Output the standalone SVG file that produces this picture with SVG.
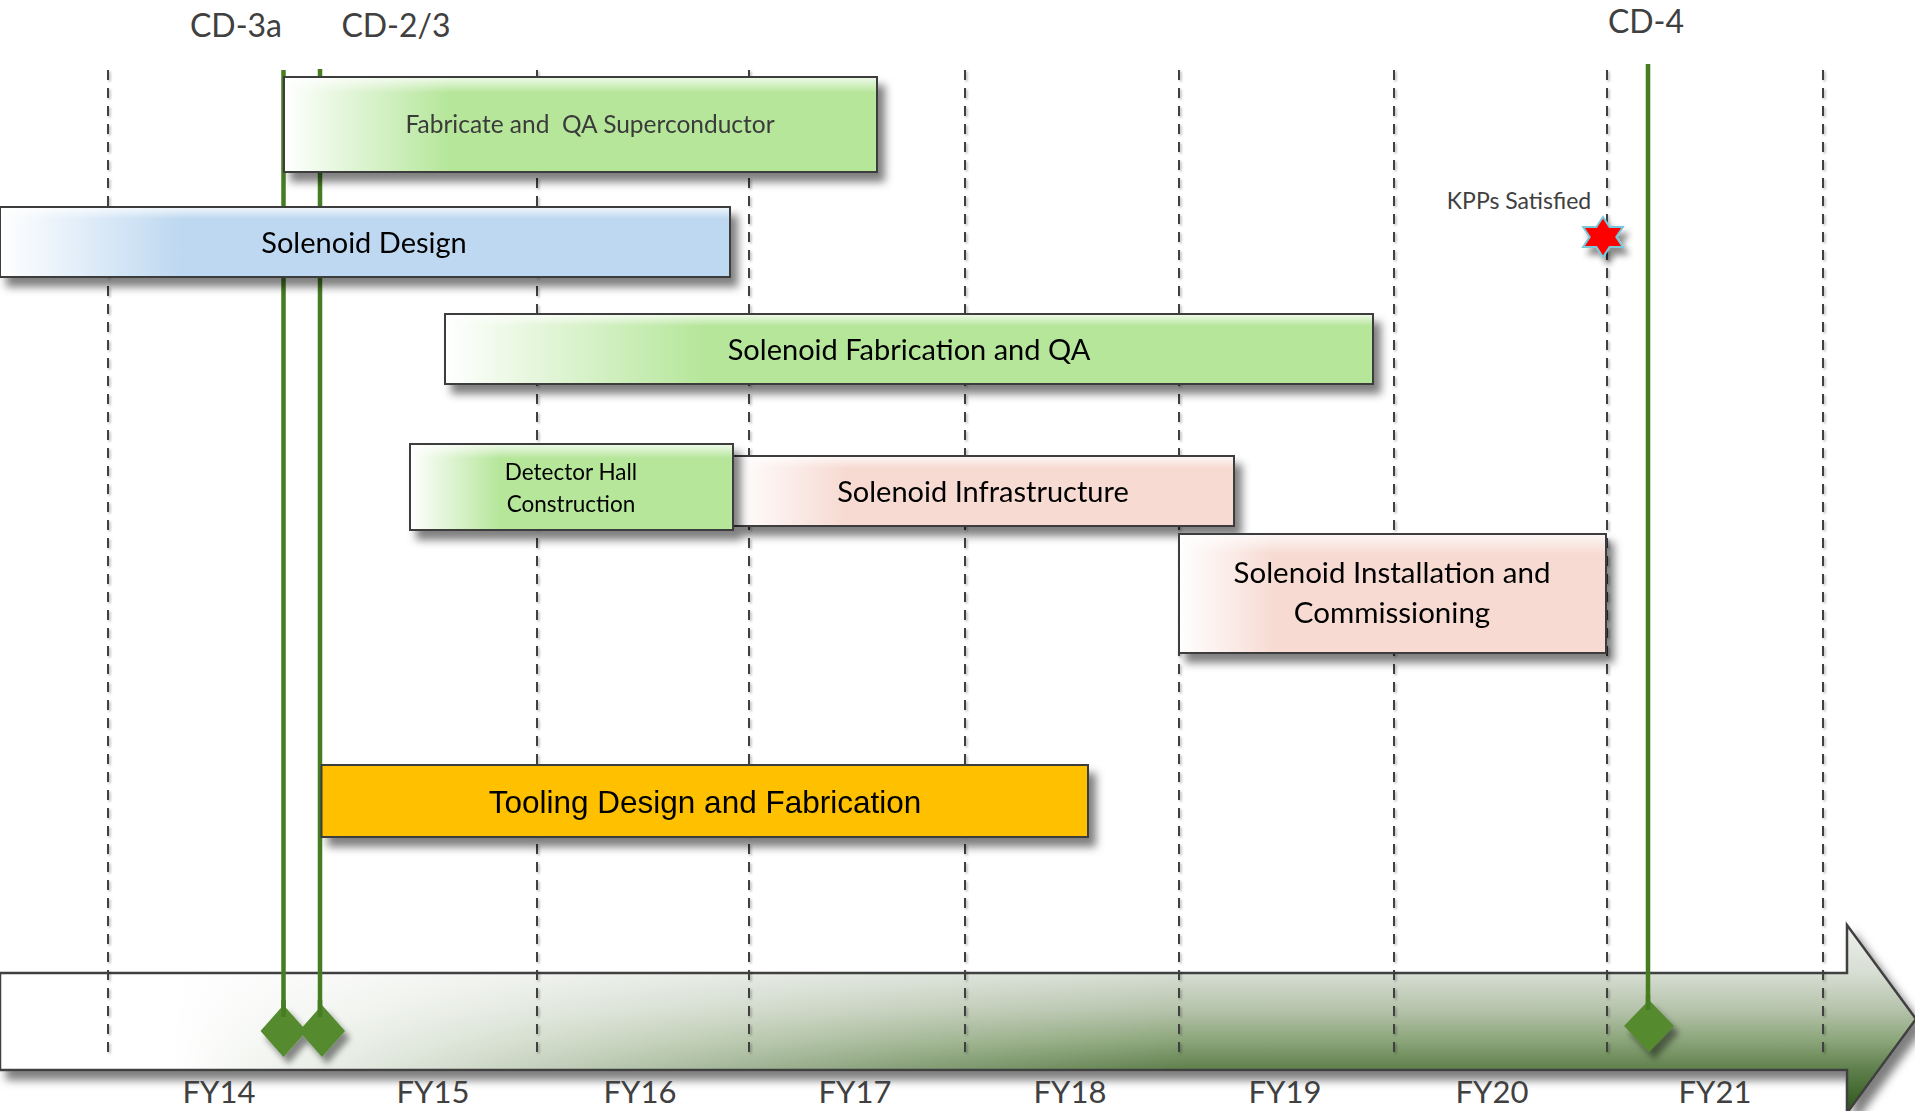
<svg xmlns="http://www.w3.org/2000/svg" width="1915" height="1111" viewBox="0 0 1915 1111">
<style>
.lbl{font-family:Lato,"Open Sans","Liberation Sans",sans-serif;fill:#000;text-anchor:middle}
.cd{font-family:Lato,"Open Sans","Liberation Sans",sans-serif;fill:#404040;text-anchor:middle;font-size:32px}
.fy{font-family:Lato,"Open Sans","Liberation Sans",sans-serif;fill:#404040;text-anchor:middle;font-size:31px}
.box{stroke:#3c3c3c;stroke-width:2}
.grid{stroke:#3f3f3f;stroke-width:2;stroke-dasharray:10 8;fill:none}
.ms{stroke:#467c22;stroke-width:4.5;fill:none}
.dia{fill:#548a2f}
</style>
<defs>
<filter id="sh" x="-10%" y="-20%" width="130%" height="160%">
<feDropShadow dx="7" dy="9" stdDeviation="4" flood-color="#000" flood-opacity="0.5"/>
</filter>
<filter id="shs" x="-50%" y="-50%" width="250%" height="250%">
<feDropShadow dx="5" dy="7" stdDeviation="3" flood-color="#000" flood-opacity="0.45"/>
</filter>
<filter id="gsh" x="-200%" y="-2%" width="500%" height="104%">
<feDropShadow dx="1.5" dy="1.5" stdDeviation="1.2" flood-color="#000" flood-opacity="0.3"/>
</filter>
<linearGradient id="gGreen" x1="0" y1="0" x2="1" y2="0">
<stop offset="0" stop-color="#fff"/><stop offset="0.28" stop-color="#b5e69a"/><stop offset="1" stop-color="#b5e69a"/>
</linearGradient>
<linearGradient id="gBlue" x1="0" y1="0" x2="1" y2="0">
<stop offset="0" stop-color="#fff"/><stop offset="0.25" stop-color="#bdd8f0"/><stop offset="1" stop-color="#bdd8f0"/>
</linearGradient>
<linearGradient id="gPink" x1="0" y1="0" x2="1" y2="0">
<stop offset="0" stop-color="#fff"/><stop offset="0.22" stop-color="#f7dbd3"/><stop offset="1" stop-color="#f7dbd3"/>
</linearGradient>
<linearGradient id="gTop" x1="0" y1="0" x2="0" y2="1">
<stop offset="0" stop-color="#fff" stop-opacity="0.75"/><stop offset="0.16" stop-color="#fff" stop-opacity="0"/>
</linearGradient>
<linearGradient id="gArrV" gradientUnits="userSpaceOnUse" x1="0" y1="925" x2="0" y2="1113">
<stop offset="0" stop-color="#eef1ec"/>
<stop offset="0.26" stop-color="#d6ddd2"/>
<stop offset="0.45" stop-color="#b5c3ab"/>
<stop offset="0.62" stop-color="#8aa478"/>
<stop offset="0.77" stop-color="#5e7f4b"/>
<stop offset="1" stop-color="#2c5519"/>
</linearGradient>
<linearGradient id="gArrH" gradientUnits="userSpaceOnUse" x1="0" y1="0" x2="1915" y2="0">
<stop offset="0" stop-color="#fff" stop-opacity="1"/>
<stop offset="0.09" stop-color="#fff" stop-opacity="1"/>
<stop offset="0.19" stop-color="#fff" stop-opacity="0.82"/>
<stop offset="0.32" stop-color="#fff" stop-opacity="0.55"/>
<stop offset="0.47" stop-color="#fff" stop-opacity="0.25"/>
<stop offset="0.62" stop-color="#fff" stop-opacity="0"/>
</linearGradient>
</defs>
<rect width="1915" height="1111" fill="#fff"/>

<g id="timeline" filter="url(#sh)">
<path d="M0,973 H1847 V925 L1916,1019 L1847,1113 V1070 H0 Z" fill="url(#gArrV)"/>
<path d="M0,973 H1847 V925 L1916,1019 L1847,1113 V1070 H0 Z" fill="url(#gArrH)" stroke="#404040" stroke-width="2.5"/>
</g>

<g id="gridlines" filter="url(#gsh)">
<line class="grid" x1="108" y1="70" x2="108" y2="1052"/>
<line class="grid" x1="537" y1="70" x2="537" y2="1052"/>
<line class="grid" x1="749" y1="70" x2="749" y2="1052"/>
<line class="grid" x1="965" y1="70" x2="965" y2="1052"/>
<line class="grid" x1="1179" y1="70" x2="1179" y2="1052"/>
<line class="grid" x1="1394" y1="70" x2="1394" y2="1052"/>
<line class="grid" x1="1607" y1="70" x2="1607" y2="1052"/>
<line class="grid" x1="1823" y1="70" x2="1823" y2="1052"/>
</g>

<g id="connectors">
<line class="ms" x1="283.5" y1="70" x2="283.5" y2="1017"/>
<line class="ms" x1="320" y1="69" x2="320" y2="1017"/>
<line class="ms" x1="1648" y1="64" x2="1648" y2="1010"/>
</g>

<g id="fabricate-superconductor" filter="url(#sh)">
<rect class="box" x="284" y="77" width="593" height="95" fill="url(#gGreen)"/>
<rect x="285" y="78" width="591" height="93" fill="url(#gTop)"/>
<text class="lbl" x="590" y="133" font-size="24.5" style="fill:#3a3a3a" xml:space="preserve">Fabricate and  QA Superconductor</text>
</g>

<g id="solenoid-design" filter="url(#sh)">
<rect class="box" x="0" y="207" width="730" height="70" fill="url(#gBlue)"/>
<rect x="1" y="208" width="728" height="68" fill="url(#gTop)"/>
<text class="lbl" x="364" y="253" font-size="29">Solenoid Design</text>
</g>

<g id="solenoid-fabrication" filter="url(#sh)">
<rect class="box" x="445" y="314" width="928" height="70" fill="url(#gGreen)"/>
<rect x="446" y="315" width="926" height="68" fill="url(#gTop)"/>
<text class="lbl" x="909" y="360" font-size="29">Solenoid Fabrication and QA</text>
</g>

<g id="solenoid-infrastructure" filter="url(#sh)">
<rect class="box" x="733" y="456" width="501" height="70" fill="url(#gPink)"/>
<rect x="734" y="457" width="499" height="68" fill="url(#gTop)"/>
<text class="lbl" x="983" y="502" font-size="29">Solenoid Infrastructure</text>
</g>

<g id="detector-hall" filter="url(#sh)">
<rect class="box" x="410" y="444" width="323" height="86" fill="url(#gGreen)"/>
<rect x="411" y="445" width="321" height="84" fill="url(#gTop)"/>
<text class="lbl" x="571" y="480" font-size="22.5">Detector Hall</text>
<text class="lbl" x="571" y="512" font-size="22.5">Construction</text>
</g>

<g id="solenoid-installation" filter="url(#sh)">
<rect class="box" x="1179" y="534" width="427" height="119" fill="url(#gPink)"/>
<rect x="1180" y="535" width="425" height="117" fill="url(#gTop)"/>
<text class="lbl" x="1392" y="583" font-size="29.5">Solenoid Installation and</text>
<text class="lbl" x="1392" y="623" font-size="29.5">Commissioning</text>
</g>

<g id="tooling" filter="url(#sh)">
<rect class="box" x="321.5" y="765" width="766.5" height="72" fill="#ffc000"/>
<text x="705" y="813" font-size="31.5" font-family="'Liberation Sans',Arial,sans-serif" text-anchor="middle" fill="#000">Tooling Design and Fabrication</text>
</g>

<g id="kpps">
<polygon filter="url(#shs)" points="1603,217 1609.6,227 1622.9,227 1616.3,237 1622.9,247 1609.6,247 1603,257 1596.4,247 1583.1,247 1589.7,237 1583.1,227 1596.4,227" fill="#ff0000" stroke="#78c8dc" stroke-width="2"/>
<text class="lbl" x="1519" y="209" font-size="23" style="fill:#404040">KPPs Satisfied</text>
</g>

<g id="milestones" filter="url(#shs)">
<polygon class="dia" points="283.5,1005 306.5,1031 283.5,1057 260.5,1031"/>
<polygon class="dia" points="322,1005 345,1031 322,1057 299,1031"/>
<polygon class="dia" points="1649,1000 1674,1026 1649,1052 1624,1026"/>
</g>
<g id="milestone-stems">
<line class="ms" x1="283.5" y1="1000" x2="283.5" y2="1017" stroke="#3f7a1c"/>
<line class="ms" x1="320" y1="1000" x2="320" y2="1017" stroke="#3f7a1c"/>
<line class="ms" x1="1648" y1="995" x2="1648" y2="1010" stroke="#3f7a1c"/>
</g>

<g id="cd-labels">
<text class="cd" x="236" y="37">CD-3a</text>
<text class="cd" x="396" y="37">CD-2/3</text>
<text class="cd" x="1646" y="33">CD-4</text>
</g>

<g id="fy-labels">
<text class="fy" x="219" y="1103">FY14</text>
<text class="fy" x="433" y="1103">FY15</text>
<text class="fy" x="640" y="1103">FY16</text>
<text class="fy" x="855" y="1103">FY17</text>
<text class="fy" x="1070" y="1103">FY18</text>
<text class="fy" x="1285" y="1103">FY19</text>
<text class="fy" x="1492" y="1103">FY20</text>
<text class="fy" x="1715" y="1103">FY21</text>
</g>
</svg>
